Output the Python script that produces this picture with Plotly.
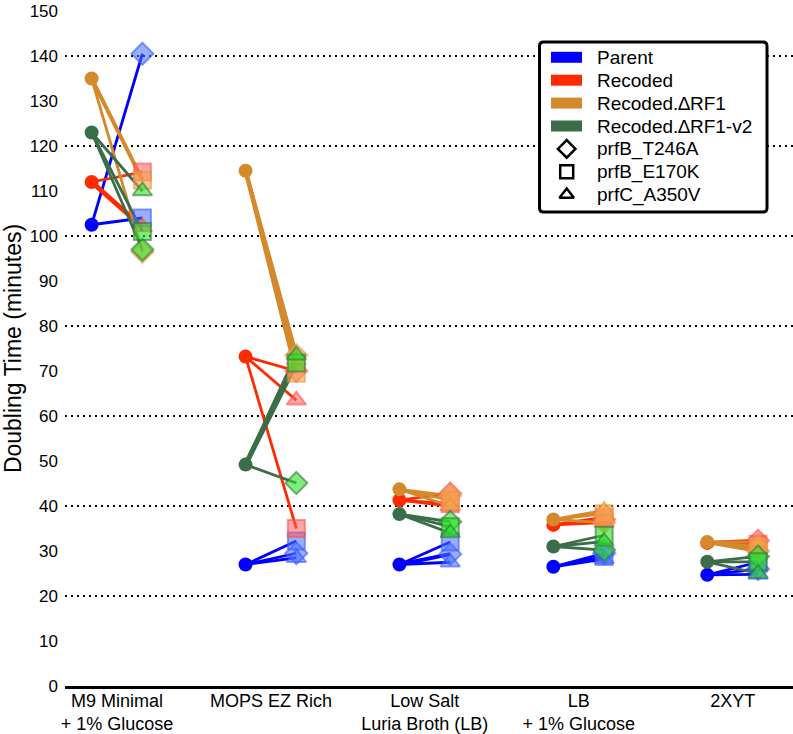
import plotly.graph_objects as go

# ---------------- data ----------------
media = ["M9 Minimal<br>+ 1% Glucose", "MOPS EZ Rich", "Low Salt<br>Luria Broth (LB)",
         "LB<br>+ 1% Glucose", "2XYT"]
strains = ["Parent", "Recoded", "Recoded.\u2206RF1", "Recoded.\u2206RF1-v2"]
mutations = ["prfB_T246A", "prfB_E170K", "prfC_A350V"]

# doubling time (minutes) of the unmutated strain, per medium
parent_wt = [102.5, 27.0, 27.0, 26.5, 24.7]
recoded_wt = [112.0, 73.2, 41.3, 35.8, 31.8]
rf1_wt = [135.0, 114.5, 43.7, 37.0, 32.0]
rf1v2_wt = [123.0, 49.2, 38.2, 31.0, 27.6]

# doubling time of each release-factor mutant, per medium (None = not measured)
parent_T246A = [140.5, 29.5, 29.3, 29.5, 26.0]
parent_E170K = [104.0, 32.2, 32.0, 28.8, 27.5]
parent_A350V = [None, 28.5, 27.5, 28.2, 24.8]

recoded_T246A = [None, 70.0, 42.8, 37.0, 32.3]
recoded_E170K = [114.2, 35.0, 40.5, 37.5, 31.5]
recoded_A350V = [102.0, 63.5, 40.0, 36.3, 31.0]

rf1_T246A = [96.5, 73.5, 42.3, 36.3, 30.0]
rf1_E170K = [112.4, 69.5, 41.3, 38.3, 31.0]
rf1_A350V = [None, 72.5, 40.0, 39.0, 32.0]

rf1v2_T246A = [97.0, 45.1, 36.5, 30.2, 28.8]
rf1v2_E170K = [101.0, 71.8, 35.4, 33.5, 27.6]
rf1v2_A350V = [110.0, 73.5, 34.0, 32.1, 25.0]

y_ticks = list(range(0, 151, 10))
grid_vals = list(range(20, 141, 20))

# ---------------- styles ----------------
wt_series = [parent_wt, recoded_wt, rf1_wt, rf1v2_wt]
mut_series = [
    [parent_T246A, parent_E170K, parent_A350V],
    [recoded_T246A, recoded_E170K, recoded_A350V],
    [rf1_T246A, rf1_E170K, rf1_A350V],
    [rf1v2_T246A, rf1v2_E170K, rf1v2_A350V],
]
line_colors = ["#0000ff", "#ff2a00", "#d4892a", "#3b6d48"]
mk_fill = ["rgba(70,110,255,0.55)", "rgba(255,90,90,0.55)",
           "rgba(248,165,75,0.6)", "rgba(40,225,40,0.6)"]
mk_edge = ["rgba(60,90,255,0.6)", "rgba(255,80,80,0.6)",
           "rgba(225,150,70,0.6)", "rgba(50,120,60,0.6)"]
symbols = ["diamond", "square", "triangle-up"]
legend_sizes = [13.5, 13, 12.5]
thick = {(1, 2, 0): 5, (2, 1, 0): 4, (2, 0, 1): 4, (2, 1, 1): 4, (2, 2, 1): 4,
         (3, 1, 1): 5, (3, 2, 1): 4, (0, 0, 2): 4, (1, 0, 4): 4, (2, 0, 4): 4}
offset = 0.165
FONT = "Liberation Sans, Arial, Helvetica, sans-serif"

fig = go.Figure()

# connecting lines
for s in range(4):
    for m in range(3):
        for i in range(len(media)):
            v = mut_series[s][m][i]
            if v is None:
                continue
            fig.add_trace(go.Scatter(
                x=[i - offset, i + offset], y=[wt_series[s][i], v], mode="lines",
                line=dict(color=line_colors[s], width=thick.get((s, m, i), 2.8)),
                showlegend=False, hoverinfo="skip"))

# unmutated strains (circles)
for s in range(4):
    fig.add_trace(go.Scatter(
        x=[i - offset for i in range(len(media))], y=wt_series[s], mode="markers",
        marker=dict(symbol="circle", size=14, color=line_colors[s]),
        showlegend=False, name=strains[s]))

# mutants
for s in range(4):
    for m in range(3):
        xs = [i + offset for i in range(len(media))]
        fig.add_trace(go.Scatter(
            x=xs, y=mut_series[s][m], mode="markers",
            marker=dict(symbol=symbols[m], size=17, color=mk_fill[s],
                        line=dict(color=mk_edge[s], width=2)),
            showlegend=False, name=strains[s] + " " + mutations[m]))

# ---------------- legend (drawn on a pixel overlay axis) ----------------
LX0, LX1, LY0, LY1, R = 539.5, 767, 42, 212, 4
row_y0, row_step = 57.3, 22.9
sym_x, text_x = 566.7, 595

shapes = [dict(type="line", xref="paper", yref="y", x0=0, x1=1, y0=g, y1=g,
               line=dict(color="black", width=2, dash="2px,4px"), layer="below")
          for g in grid_vals]
box_path = (f"M{LX0+R},{LY0} H{LX1-R} Q{LX1},{LY0} {LX1},{LY0+R} V{LY1-R} "
            f"Q{LX1},{LY1} {LX1-R},{LY1} H{LX0+R} Q{LX0},{LY1} {LX0},{LY1-R} "
            f"V{LY0+R} Q{LX0},{LY0} {LX0+R},{LY0} Z")
shapes.append(dict(type="path", xref="x2", yref="y2", path=box_path,
                   line=dict(color="black", width=3), fillcolor="white", layer="below"))
annotations = []
for s in range(4):
    yc = row_y0 + s * row_step
    shapes.append(dict(type="rect", xref="x2", yref="y2", x0=551, x1=582,
                       y0=yc - 5.5, y1=yc + 5.5, line=dict(width=0),
                       fillcolor=line_colors[s], layer="above"))
    annotations.append(dict(xref="x2", yref="y2", x=text_x, y=yc, text=strains[s],
                            showarrow=False, xanchor="left", yanchor="middle",
                            font=dict(size=19, family=FONT, color="black")))
for m in range(3):
    yc = row_y0 + (4 + m) * row_step
    fig.add_trace(go.Scatter(
        x=[sym_x], y=[yc], xaxis="x2", yaxis="y2", mode="markers",
        marker=dict(symbol=symbols[m] + "-open", size=legend_sizes[m], color="black",
                    line=dict(width=2.5, color="black")),
        showlegend=False, hoverinfo="skip"))
    annotations.append(dict(xref="x2", yref="y2", x=text_x, y=yc, text=mutations[m],
                            showarrow=False, xanchor="left", yanchor="middle",
                            font=dict(size=19, family=FONT, color="black")))

fig.update_layout(
    width=793, height=734,
    margin=dict(l=65, r=0, t=11, b=48),
    paper_bgcolor="white", plot_bgcolor="white",
    font=dict(family=FONT, size=18, color="black"),
    showlegend=False,
    shapes=shapes, annotations=annotations,
    xaxis=dict(range=[-0.338, 4.392], tickvals=list(range(len(media))), ticktext=media,
               showgrid=False, zeroline=False, showline=True, linecolor="black",
               linewidth=3, ticks="", tickfont=dict(size=18), ticklabelstandoff=-4,
               automargin=False, ticklabeloverflow="allow"),
    yaxis=dict(range=[0, 150], tickvals=y_ticks, showgrid=False, zeroline=False,
               showline=False, ticks="", tickfont=dict(size=17), ticklabelstandoff=6,
               automargin=False, ticklabeloverflow="allow",
               title=dict(text="Doubling Time (minutes)", font=dict(size=23), standoff=8)),
    xaxis2=dict(overlaying="x", anchor="y2", range=[65, 793], visible=False,
                fixedrange=True),
    yaxis2=dict(overlaying="y", anchor="x2", range=[686, 11], visible=False,
                fixedrange=True),
)

fig.write_html("out.html", config={"displayModeBar": False},
               post_script="document.body.style.margin='0px';")
